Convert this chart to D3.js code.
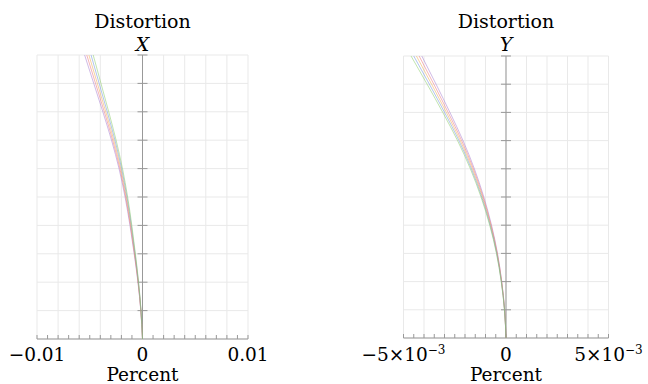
<!DOCTYPE html>
<html><head><meta charset="utf-8">
<script src="https://cdn.jsdelivr.net/npm/d3@7"></script>
<style>body{margin:0;background:#fff}svg{display:block}text{font-family:"DejaVu Serif",serif;fill:#000}</style>
</head><body><svg id="c" width="648" height="384"></svg>
<script>
// field height fraction (0..1), 11 samples
const heights = [0,0.1,0.2,0.3,0.4,0.5,0.6,0.7,0.8,0.9,1.0];
const seriesNames = ["purple","red","orange","blue","green"];
const seriesColors = ["#a47ad0","#ec7078","#eeaa48","#6a8edc","#88cc66"];
// Distortion X (percent)
const distX_purple = [0,-0.000162,-0.000432,-0.000788,-0.001188,-0.001652,-0.002225,-0.002938,-0.003758,-0.004622,-0.005486];
const distX_red    = [0,-0.000156,-0.000416,-0.000759,-0.001144,-0.001591,-0.002142,-0.002829,-0.003619,-0.004451,-0.005283];
const distX_orange = [0,-0.00015,-0.0004,-0.00073,-0.0011,-0.00153,-0.00206,-0.00272,-0.00348,-0.00428,-0.00508];
const distX_blue   = [0,-0.000144,-0.000384,-0.000701,-0.001056,-0.001469,-0.001978,-0.002611,-0.003341,-0.004109,-0.004877];
const distX_green  = [0,-0.000138,-0.000368,-0.000672,-0.001012,-0.001408,-0.001895,-0.002502,-0.003202,-0.003938,-0.004674];
// Distortion Y (percent)
const distY_purple = [0,-0.000066,-0.000207,-0.000414,-0.000705,-0.001081,-0.001542,-0.002096,-0.002735,-0.003412,-0.004108];
const distY_red    = [0,-0.000068,-0.000213,-0.000427,-0.000728,-0.001116,-0.001591,-0.002163,-0.002823,-0.003521,-0.004239];
const distY_orange = [0,-0.00007,-0.00022,-0.00044,-0.00075,-0.00115,-0.00164,-0.00223,-0.00291,-0.00363,-0.00437];
const distY_blue   = [0,-0.000072,-0.000227,-0.000453,-0.000773,-0.001185,-0.001689,-0.002297,-0.002997,-0.003739,-0.004501];
const distY_green  = [0,-0.000074,-0.000233,-0.000466,-0.000795,-0.001219,-0.001738,-0.002364,-0.003085,-0.003848,-0.004632];
const xDomainX = [-0.01,0.01], xDomainY = [-0.005,0.005];
const gridStepX = 0.002, minorStepX = 0.001;
const gridStepY = 0.001, minorStepY = 0.0005;
const tickLabelsX = [{v:-0.01,t:["−0.01"]},{v:0,t:["0"]},{v:0.01,t:["0.01"]}];
const tickLabelsY = [{v:-0.005,t:["−5×10","−3"]},{v:0,t:["0"]},{v:0.005,t:["5×10","−3"]}];

const svg = d3.select("#c");

function panel(opts){
  const {xr, yr, dom, grid, minor, labels, series, title2} = opts;
  const x = d3.scaleLinear().domain(dom).range(xr);
  const y = d3.scaleLinear().domain([0,1]).range(yr);
  const g = svg.append("g");
  const nG = Math.round((dom[1]-dom[0])/grid);
  const gx = d3.range(nG+1).map(i=>dom[0]+i*grid);
  g.selectAll(".gv").data(gx).join("line")
    .attr("x1",d=>x(d)).attr("x2",d=>x(d)).attr("y1",y(0)).attr("y2",y(1))
    .attr("stroke","#e9e9e9").attr("stroke-width",1);
  g.selectAll(".gh").data(heights).join("line")
    .attr("x1",xr[0]).attr("x2",xr[1]).attr("y1",d=>y(d)).attr("y2",d=>y(d))
    .attr("stroke","#e9e9e9").attr("stroke-width",1);
  // bottom axis
  g.append("line").attr("x1",xr[0]).attr("x2",xr[1]).attr("y1",y(0)).attr("y2",y(0))
    .attr("stroke","#999").attr("stroke-width",1);
  const nM = Math.round((dom[1]-dom[0])/minor);
  const mt = d3.range(nM+1).map(i=>dom[0]+i*minor);
  g.selectAll(".mt").data(mt).join("line")
    .attr("x1",d=>x(d)).attr("x2",d=>x(d)).attr("y1",y(0)).attr("y2",y(0)-4)
    .attr("stroke","#999").attr("stroke-width",1);
  // vertical axis at 0
  g.append("line").attr("x1",x(0)).attr("x2",x(0)).attr("y1",y(0)).attr("y2",y(1))
    .attr("stroke","#999").attr("stroke-width",1);
  g.selectAll(".vt").data(heights.slice(1)).join("line")
    .attr("x1",x(0)-5).attr("x2",x(0)+5).attr("y1",d=>y(d)).attr("y2",d=>y(d))
    .attr("stroke","#999").attr("stroke-width",1);
  // curves
  const line = d3.line().x(d=>x(d[0])).y(d=>y(d[1])).curve(d3.curveMonotoneY);
  series.forEach((s,k)=>{
    g.append("path").datum(s.map((v,i)=>[v,heights[i]]))
      .attr("d",line).attr("fill","none").attr("stroke",seriesColors[k])
      .attr("stroke-width",0.7).attr("stroke-opacity",0.75);
  });
  // tick labels
  labels.forEach(l=>{
    const t = g.append("text").attr("x",x(l.v)).attr("y",361).attr("text-anchor","middle").attr("font-size",18.5);
    t.append("tspan").text(l.t[0]);
    if(l.t[1]) t.append("tspan").attr("dy",-7).attr("font-size",12).text(l.t[1]);
  });
  const cx = x(0);
  g.append("text").attr("x",cx).attr("y",381).attr("text-anchor","middle").attr("font-size",18.5).text("Percent");
  g.append("text").attr("x",cx).attr("y",28).attr("text-anchor","middle").attr("font-size",19).text("Distortion");
  g.append("text").attr("x",cx).attr("y",51).attr("text-anchor","middle").attr("font-size",19).attr("font-style","italic").text(title2);
}
panel({xr:[37,248], yr:[339,55], dom:xDomainX, grid:gridStepX, minor:minorStepX, labels:tickLabelsX,
  series:[distX_purple,distX_red,distX_orange,distX_blue,distX_green], title2:"X"});
panel({xr:[403.5,608.5], yr:[338,56], dom:xDomainY, grid:gridStepY, minor:minorStepY, labels:tickLabelsY,
  series:[distY_purple,distY_red,distY_orange,distY_blue,distY_green], title2:"Y"});
</script></body></html>
